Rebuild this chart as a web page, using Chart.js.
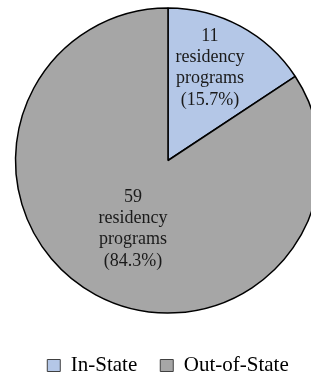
<!DOCTYPE html>
<html>
<head>
<meta charset="utf-8">
<script src="https://cdn.jsdelivr.net/npm/chart.js@4/dist/chart.umd.min.js"></script>
<style>
  html, body { margin: 0; padding: 0; width: 311px; height: 377px; overflow: hidden; background: #fff; }
  #wrap { position: absolute; left: 0; top: -11px; }
</style>
</head>
<body>
<div id="wrap"><canvas id="c" width="336" height="397"></canvas></div>
<script>
// ---- data ----
const categories = ['In-State', 'Out-of-State'];
const programCounts = [11, 59];
const percentLabels = ['15.7%', '84.3%'];
const labelWords = ['residency', 'programs'];
const sliceColors = ['#B4C7E7', '#A6A6A6'];

// ---- label placement style (radial fraction, angle tweak in degrees) ----
const labelStyle = { frac: [0.666, 0.504], tweak: [-3.9, -1.2], font: '18px "Liberation Serif"', lineHeight: 21.4 };

const sliceLabels = {
  id: 'sliceLabels',
  afterDatasetsDraw(chart) {
    const ctx = chart.ctx;
    const meta = chart.getDatasetMeta(0);
    ctx.save();
    ctx.font = labelStyle.font;
    ctx.fillStyle = '#1a1a1a';
    ctx.textAlign = 'center';
    ctx.textBaseline = 'middle';
    meta.data.forEach((arc, i) => {
      const p = arc.getProps(['x', 'y', 'startAngle', 'endAngle', 'outerRadius'], true);
      const mid = (p.startAngle + p.endAngle) / 2 + labelStyle.tweak[i] * Math.PI / 180;
      const r = p.outerRadius * labelStyle.frac[i];
      const cx = p.x + Math.cos(mid) * r;
      const cy = p.y + Math.sin(mid) * r;
      const lines = [String(programCounts[i]), labelWords[0], labelWords[1], '(' + percentLabels[i] + ')'];
      const top = cy - (lines.length - 1) * labelStyle.lineHeight / 2;
      lines.forEach((t, k) => ctx.fillText(t, cx, top + k * labelStyle.lineHeight));
    });
    ctx.restore();
  }
};

new Chart(document.getElementById('c'), {
  type: 'pie',
  data: {
    labels: categories,
    datasets: [{
      data: programCounts,
      backgroundColor: sliceColors,
      borderColor: '#000000',
      borderWidth: 1.5
    }]
  },
  options: {
    responsive: false,
    animation: false,
    radius: 152.5,
    layout: { padding: 0 },
    plugins: {
      tooltip: { enabled: false },
      legend: {
        position: 'bottom',
        labels: {
          font: { family: '"Liberation Serif"', size: 21 },
          color: '#000',
          boxWidth: 13,
          boxHeight: 12,
          padding: 23,
          generateLabels(chart) {
            const items = Chart.overrides.pie.plugins.legend.labels.generateLabels(chart);
            items.forEach(it => { it.lineWidth = 1; it.strokeStyle = '#404040'; });
            return items;
          }
        }
      }
    }
  },
  plugins: [sliceLabels]
});
</script>
</body>
</html>
